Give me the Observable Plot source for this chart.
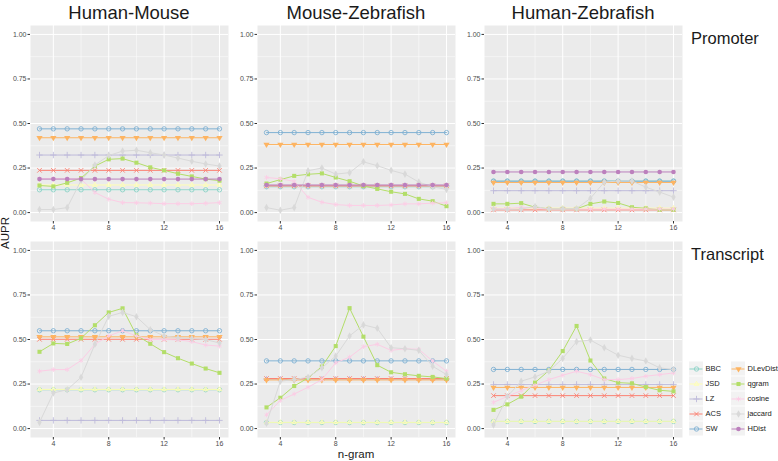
<!DOCTYPE html>
<html><head><meta charset="utf-8">
<script src="https://cdn.jsdelivr.net/npm/d3@7"></script>
<script src="https://cdn.jsdelivr.net/npm/@observablehq/plot@0.6"></script>
<style>
body{margin:0;background:#fff;font-family:"Liberation Sans",Arial,sans-serif;}
#wrap{position:relative;width:778px;height:461px;overflow:hidden;background:#fff;}
#wrap > svg, #wrap > figure{position:absolute;margin:0;}
</style></head><body><div id="wrap"></div>
<script>
const ngram = [3,4,5,6,7,8,9,10,11,12,13,14,15,16];
const methods = ["BBC","JSD","LZ","ACS","SW","DLevDist","qgram","cosine","jaccard","HDist"];
const palette = ["#8DD3C7","#FFFFB3","#BEBADA","#FB8072","#80B1D3","#FDB462","#B3DE69","#FCCDE5","#D9D9D9","#BC80BD"];
const triangleDown = {
  draw(context, size) {
    const y = -Math.sqrt(size / (Math.sqrt(3) * 3));
    context.moveTo(0, -y * 2);
    context.lineTo(-Math.sqrt(3) * y, y);
    context.lineTo(Math.sqrt(3) * y, y);
    context.closePath();
  }
};
const symbols = ["circle","triangle2","plus","times","circle",triangleDown,"square","asterisk","diamond","circle"];
const filled = [false,false,false,false,false,true,true,false,true,true];
const pairs = ["Human-Mouse","Mouse-Zebrafish","Human-Zebrafish"];
const regions = ["Promoter","Transcript"];
const xTicks = [4,8,12,16];
const xMinor = [6,10,14];
const yTicks = [0,0.25,0.5,0.75,1];
const yMinor = [0.125,0.375,0.625,0.875];

// methods that do not depend on n-gram: BBC, JSD, LZ, ACS, SW, DLevDist, HDist
const flatMethods = ["BBC","JSD","LZ","ACS","SW","DLevDist","HDist"];
const flatHMP = [0.128,0.155,0.323,0.237,0.470,0.420,0.188];
const flatMZP = [0.145,0.150,0.150,0.150,0.449,0.382,0.155];
const flatHZP = [0.177,0.025,0.123,0.015,0.176,0.169,0.228];
const flatHMT = [0.218,0.220,0.046,0.501,0.549,0.515,null];
const flatMZT = [0.034,0.035,0.277,0.281,0.380,0.273,null];
const flatHZT = [0.040,0.041,0.248,0.185,0.332,0.231,null];

const qgramHMP   = [0.152,0.147,0.167,0.194,0.261,0.299,0.303,0.280,0.254,0.237,0.218,0.203,0.188,0.179];
const cosineHMP  = [0.190,0.190,0.190,0.188,0.113,0.075,0.056,0.055,0.053,0.050,0.050,0.050,0.052,0.056];
const jaccardHMP = [0.017,0.017,0.028,0.180,0.267,0.320,0.345,0.350,0.336,0.323,0.306,0.288,0.273,0.261];

const qgramMZP   = [0.163,0.185,0.206,0.215,0.220,0.197,0.176,0.149,0.133,0.117,0.105,0.077,0.064,0.036];
const cosineMZP  = [0.197,0.190,0.175,0.086,0.058,0.045,0.040,0.040,0.040,0.043,0.049,0.049,0.053,0.055];
const jaccardMZP = [0.028,0.013,0.028,0.235,0.250,0.216,0.224,0.285,0.263,0.237,0.216,0.171,0.145,0.130];

const qgramHZP   = [0.049,0.049,0.053,0.030,0.021,0.021,0.021,0.049,0.062,0.054,0.030,0.024,0.016,0.016];
const cosineHZP  = [0.022,0.022,0.030,0.025,0.020,0.020,0.020,0.020,0.020,0.020,0.020,0.020,0.020,0.020];
const jaccardHZP = [0.020,0.018,0.020,0.034,0.020,0.020,0.022,0.080,0.171,0.177,0.177,0.143,0.115,0.087];

const qgramHMT   = [0.431,0.478,0.475,0.507,0.580,0.652,0.675,0.524,0.476,0.429,0.395,0.365,0.337,0.313];
const cosineHMT  = [0.322,0.331,0.331,0.382,0.473,0.520,0.549,0.520,0.500,0.500,0.498,0.488,0.469,0.463];
const jaccardHMT = [0.035,0.200,0.218,0.288,0.473,0.630,0.652,0.628,0.555,0.520,0.510,0.505,0.500,0.480];

const qgramMZT   = [0.119,0.173,0.239,0.284,0.348,0.463,0.676,0.516,0.356,0.316,0.305,0.296,0.290,0.281];
const cosineMZT  = [0.077,0.158,0.194,0.232,0.275,0.369,0.401,0.460,0.473,0.439,0.448,0.445,0.379,0.322];
const jaccardMZT = [0.030,0.266,0.275,0.288,0.341,0.407,0.520,0.582,0.563,0.454,0.448,0.439,0.350,0.303];

const qgramHZT   = [0.105,0.136,0.179,0.258,0.326,0.435,0.576,0.382,0.281,0.258,0.254,0.233,0.215,0.209];
const cosineHZT  = [0.147,0.181,0.213,0.243,0.275,0.299,0.322,0.303,0.275,0.275,0.281,0.294,0.303,0.312];
const jaccardHZT = [0.020,0.180,0.266,0.290,0.322,0.394,0.488,0.497,0.454,0.412,0.394,0.379,0.341,0.331];

const panels = [
  {col:0,row:0,flat:flatHMP,qgram:qgramHMP,cosine:cosineHMP,jaccard:jaccardHMP},
  {col:1,row:0,flat:flatMZP,qgram:qgramMZP,cosine:cosineMZP,jaccard:jaccardMZP},
  {col:2,row:0,flat:flatHZP,qgram:qgramHZP,cosine:cosineHZP,jaccard:jaccardHZP},
  {col:0,row:1,flat:flatHMT,qgram:qgramHMT,cosine:cosineHMT,jaccard:jaccardHMT},
  {col:1,row:1,flat:flatMZT,qgram:qgramMZT,cosine:cosineMZT,jaccard:jaccardMZT},
  {col:2,row:1,flat:flatHZT,qgram:qgramHZT,cosine:cosineHZT,jaccard:jaccardHZT}
];

function rowsFor(p) {
  const out = [];
  methods.forEach(m => {
    const fi = flatMethods.indexOf(m);
    let vals;
    if (fi >= 0) { const v = p.flat[fi]; if (v == null) return; vals = ngram.map(() => v); }
    else vals = p[m];
    vals.forEach((v, j) => out.push({method: m, n: ngram[j], aupr: v}));
  });
  return out;
}

const wrap = document.getElementById("wrap");
const FONT = "Liberation Sans, Arial, Helvetica, sans-serif";
const colLeft = [30, 257, 484], rowTop = [25, 241];
const ML = 26, MR = 2, MT = 2, MB = 14, PW = 198, PH = 196;

function dotMark(d, i) {
  return filled[i]
    ? Plot.dot(d, {x: "n", y: "aupr", fill: "method", stroke: "none", symbol: symbols[i], r: 2.3})
    : Plot.dot(d, {x: "n", y: "aupr", stroke: "method", fill: "none", symbol: symbols[i], r: 2.2, strokeWidth: 0.9});
}

function seriesMarks(data) {
  const marks = [];
  methods.forEach((m, i) => {
    const d = data.filter(r => r.method === m);
    if (!d.length) return;
    marks.push(Plot.line(d, {x: "n", y: "aupr", stroke: "method", strokeWidth: 1}));
    marks.push(dotMark(d, i));
  });
  return marks;
}

panels.forEach(p => {
  const data = rowsFor(p);
  const chart = Plot.plot({
    width: ML + PW + MR, height: MT + PH + MB,
    marginLeft: ML, marginRight: MR, marginTop: MT, marginBottom: MB,
    x: {domain: [2.35, 16.65]},
    y: {domain: [-0.05, 1.05]},
    color: {domain: methods, range: palette},
    style: {background: "none", fontSize: "7px", fontFamily: FONT, color: "#4d4d4d", overflow: "visible"},
    marks: [
      Plot.frame({fill: "#EBEBEB", stroke: "none"}),
      Plot.ruleX(xMinor, {stroke: "white", strokeWidth: 0.5}),
      Plot.ruleY(yMinor, {stroke: "white", strokeWidth: 0.5}),
      Plot.ruleX(xTicks, {stroke: "white", strokeWidth: 1}),
      Plot.ruleY(yTicks, {stroke: "white", strokeWidth: 1}),
      Plot.axisX(xTicks, {tickSize: 2.5, tickPadding: 1.5, label: null, stroke: "#333", fill: "#4d4d4d"}),
      Plot.axisY(yTicks, {tickSize: 2.5, tickPadding: 1.5, label: null, tickFormat: d3.format(".2f"), stroke: "#333", fill: "#4d4d4d"}),
      ...seriesMarks(data)
    ]
  });
  chart.style.left = (colLeft[p.col] - ML) + "px";
  chart.style.top = (rowTop[p.row] - MT) + "px";
  wrap.appendChild(chart);
});

// legend
const legendRows = methods.map((m, i) => ({method: m, col: Math.floor(i / 5), row: i % 5, n: Math.floor(i / 5), aupr: i % 5}));
const legendMarks = [
  Plot.rect(legendRows, {x1: d => d.col - 0.167, x2: d => d.col + 0.167, y1: d => d.row - 0.47, y2: d => d.row + 0.47, fill: "#F2F2F2"}),
  Plot.ruleY(legendRows, {y: "row", x1: d => d.col - 0.155, x2: d => d.col + 0.155, stroke: "method", strokeWidth: 1})
];
legendRows.forEach((r, i) => legendMarks.push(dotMark([r], i)));
legendMarks.push(Plot.text(legendRows, {x: "col", y: "row", text: "method", dx: 9, textAnchor: "start", fill: "#1a1a1a", fontSize: 7.5}));
const legend = Plot.plot({
  width: 90, height: 80, margin: 0,
  x: {domain: [0, 1], range: [8, 50], axis: null},
  y: {domain: [0, 4], range: [8.5, 68.5], axis: null},
  color: {domain: methods, range: palette},
  style: {background: "none", fontFamily: FONT, overflow: "visible"},
  marks: legendMarks
});
legend.style.left = "688px";
legend.style.top = "360px";
wrap.appendChild(legend);

// titles
const svg = d3.select(wrap).append("svg").attr("width", 778).attr("height", 461)
  .style("left", "0px").style("top", "0px").style("pointer-events", "none")
  .attr("font-family", FONT);
pairs.forEach((t, c) => {
  svg.append("text").attr("x", colLeft[c] + PW / 2).attr("y", 18.5).attr("text-anchor", "middle")
    .attr("font-size", 18.5).attr("fill", "#1a1a1a").text(t);
});
regions.forEach((t, r) => {
  svg.append("text").attr("x", 691).attr("y", rowTop[r] + 18.5).attr("text-anchor", "start")
    .attr("font-size", 16.5).attr("fill", "#1a1a1a").text(t);
});
svg.append("text").attr("transform", "translate(9,233) rotate(-90)").attr("text-anchor", "middle")
  .attr("font-size", 11.5).attr("fill", "#1a1a1a").text("AUPR");
svg.append("text").attr("x", colLeft[1] + PW / 2).attr("y", 458).attr("text-anchor", "middle")
  .attr("font-size", 11.5).attr("fill", "#1a1a1a").text("n-gram");
</script></body></html>
